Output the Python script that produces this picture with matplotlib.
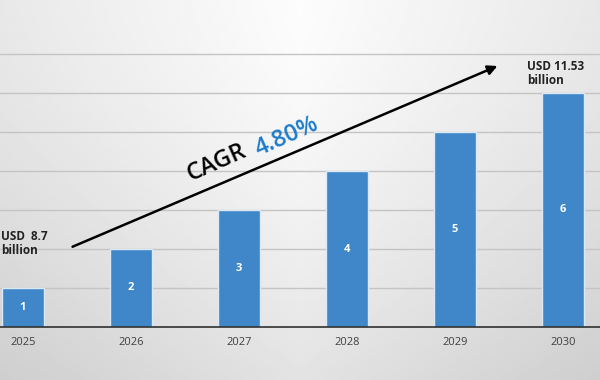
import numpy as np
import matplotlib
matplotlib.use("Agg")
import matplotlib.pyplot as plt

# chart data
years = ["2025", "2026", "2027", "2028", "2029", "2030"]
values = [1, 2, 3, 4, 5, 6]
bar_labels = ["1", "2", "3", "4", "5", "6"]
start_label = "USD  8.7\nbillion"
end_label = "USD 11.53\nbillion"
cagr_word = "CAGR"
cagr_value = "4.80%"

plt.rcParams['font.family'] = ['Open Sans', 'DejaVu Sans']

fig = plt.figure(figsize=(6, 3.8), dpi=100)

# soft gray background gradient
bg = fig.add_axes([0, 0, 1, 1], zorder=-2)
yy, xx = np.mgrid[0:1:200j, 0:1:300j]
shade = 0.99 - 0.10 * np.abs(xx - 0.5) * 1.6 - 0.10 * yy ** 1.5
shade = np.clip(shade, 0.78, 1.0)
bg.imshow(shade, cmap="gray", vmin=0, vmax=1, aspect="auto", extent=[0, 1, 0, 1], origin="upper")
bg.axis("off")

# plot area: baseline at y=327px, bars spaced 108px
ax = fig.add_axes([0, 53 / 380, 1, 327 / 380])
ax.set_facecolor("none")
x = np.arange(len(years))
ax.set_xlim(-23 / 108, 5 + 37 / 108)
ax.set_ylim(0, 327 / 39)

ax.set_yticks(range(1, 8))
ax.yaxis.grid(True, color="#c4c4c4", linewidth=1)
ax.set_axisbelow(True)
ax.tick_params(axis="y", left=False, labelleft=False)
ax.tick_params(axis="x", bottom=False, pad=4, labelsize=8, labelcolor="#404040")
for s in ["top", "left", "right"]:
    ax.spines[s].set_visible(False)
ax.spines["bottom"].set_color("#303030")
ax.spines["bottom"].set_linewidth(1.2)

bars = ax.bar(x, values, width=0.39, color="#3f87c9", edgecolor="#dce8f3", linewidth=1)
ax.set_xticks(x)
ax.set_xticklabels(years)

for b, lab in zip(bars, bar_labels):
    ax.text(b.get_x() + b.get_width() / 2, b.get_height() / 2, lab,
            ha="center", va="center", color="white", fontsize=8, fontweight="bold")

# CAGR arrow
ax.annotate("", xy=(4.417, 6.72), xytext=(0.435, 2.03),
            arrowprops=dict(arrowstyle="-|>", color="black", lw=1.8, mutation_scale=14))

ang = 24
ax.text(217 / 108 - 23 / 108, (327 - 163) / 39, cagr_word, rotation=ang, rotation_mode="anchor",
        ha="center", va="center", fontsize=17, fontweight="semibold", color="black")
ax.text(287 / 108 - 23 / 108, (327 - 137) / 39, cagr_value, rotation=ang, rotation_mode="anchor",
        ha="center", va="center", fontsize=17, fontweight="semibold", color="#1c7bcc")

ax.text(-0.205, (327 - 243) / 39, start_label, ha="left", va="center",
        fontsize=8.5, fontweight="bold", color="#222222", linespacing=1.1)
ax.text(527 / 108 - 23 / 108, (327 - 73) / 39, end_label, ha="left", va="center",
        fontsize=8.5, fontweight="bold", color="#222222", linespacing=1.1)

fig.savefig("out.png", dpi=100)
